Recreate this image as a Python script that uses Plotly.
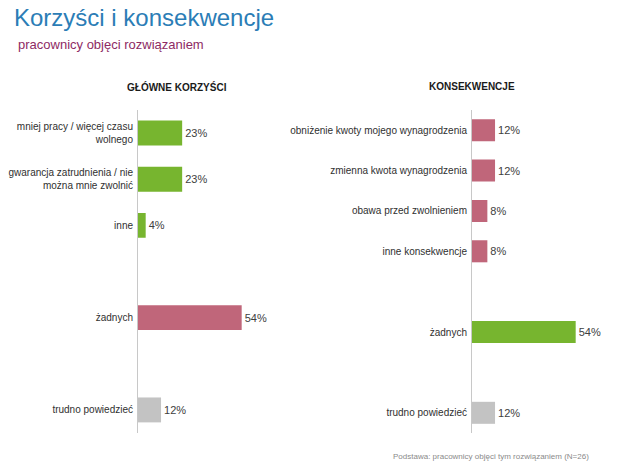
import plotly.graph_objects as go

W, H = 640, 473

# Left panel data
left_labels = ["mniej pracy / więcej czasu<br>wolnego",
               "gwarancja zatrudnienia / nie<br>można mnie zwolnić",
               "inne", "żadnych", "trudno powiedzieć"]
left_values = [23, 23, 4, 54, 12]
left_slots = [0, 1, 2, 4, 6]
left_colors = ["#77b52f", "#77b52f", "#77b52f", "#c0667a", "#c3c3c3"]

# Right panel data
right_labels = ["obniżenie kwoty mojego wynagrodzenia",
                "zmienna kwota wynagrodzenia",
                "obawa przed zwolnieniem",
                "inne konsekwencje", "żadnych", "trudno powiedzieć"]
right_values = [12, 12, 8, 8, 54, 12]
right_slots = [0, 1, 2, 3, 5, 7]
right_colors = ["#c0667a", "#c0667a", "#c0667a", "#c0667a", "#77b52f", "#c3c3c3"]

FONT = "Liberation Sans, Arial, sans-serif"

fig = go.Figure()
fig.add_trace(go.Bar(
    x=left_values, y=left_slots, orientation="h",
    marker=dict(color=left_colors, line=dict(width=0)),
    width=0.54,
    text=[f"{v}%" for v in left_values], textposition="outside",
    textfont=dict(size=11, color="#404040", family=FONT),
    cliponaxis=False, xaxis="x", yaxis="y", hoverinfo="skip",
))
fig.add_trace(go.Bar(
    x=right_values, y=right_slots, orientation="h",
    marker=dict(color=right_colors, line=dict(width=0)),
    width=0.545,
    text=[f"{v}%" for v in right_values], textposition="outside",
    textfont=dict(size=11, color="#404040", family=FONT),
    cliponaxis=False, xaxis="x2", yaxis="y2", hoverinfo="skip",
))

ybot = 1 - 433 / H
ytop = 1 - 110 / H
R = 70
px_per = 1.92
lx0 = 138 / W
lx1 = (138 + R * px_per) / W
rx0 = 472 / W
rx1 = (472 + R * px_per) / W

common_y = dict(showgrid=False, zeroline=False, showline=True, linecolor="#c8c8c8",
                linewidth=1, ticks="", tickfont=dict(size=10, color="#303030", family=FONT),
                ticklabelstandoff=2)
common_x = dict(showgrid=False, zeroline=False, showline=False, showticklabels=False,
                range=[0, R], fixedrange=True)

fig.update_layout(
    width=W, height=H,
    margin=dict(l=0, r=0, t=0, b=0),
    paper_bgcolor="white", plot_bgcolor="white",
    showlegend=False,
    xaxis=dict(domain=[lx0, lx1], anchor="y", **common_x),
    yaxis=dict(domain=[ybot, ytop], anchor="x", range=[6.5, -0.5],
               tickvals=left_slots, ticktext=left_labels, **common_y),
    xaxis2=dict(domain=[rx0, rx1], anchor="y2", **common_x),
    yaxis2=dict(domain=[ybot, ytop], anchor="x2", range=[7.5, -0.5],
                tickvals=right_slots, ticktext=right_labels, **common_y),
    annotations=[
        dict(text="Korzyści i konsekwencje", x=12 / W, y=1 - 18 / H, xref="paper", yref="paper",
             xanchor="left", yanchor="middle", showarrow=False,
             font=dict(size=24, color="#2b7db6", family=FONT)),
        dict(text="pracownicy objęci rozwiązaniem", x=16 / W, y=1 - 45 / H, xref="paper", yref="paper",
             xanchor="left", yanchor="middle", showarrow=False,
             font=dict(size=13, color="#8e2a63", family=FONT)),
        dict(text="<b>GŁÓWNE KORZYŚCI</b>", x=177 / W, y=1 - 87 / H, xref="paper", yref="paper",
             xanchor="center", yanchor="middle", showarrow=False,
             font=dict(size=10, color="#1a1a1a", family=FONT)),
        dict(text="<b>KONSEKWENCJE</b>", x=472 / W, y=1 - 87 / H, xref="paper", yref="paper",
             xanchor="center", yanchor="middle", showarrow=False,
             font=dict(size=10, color="#1a1a1a", family=FONT)),
        dict(text="Podstawa: pracownicy objęci tym rozwiązaniem (N=26)", x=491 / W, y=1 - 456 / H,
             xref="paper", yref="paper", xanchor="center", yanchor="middle", showarrow=False,
             font=dict(size=8, color="#8a8a8a", family=FONT)),
    ],
)

fig.write_html("out.html")
